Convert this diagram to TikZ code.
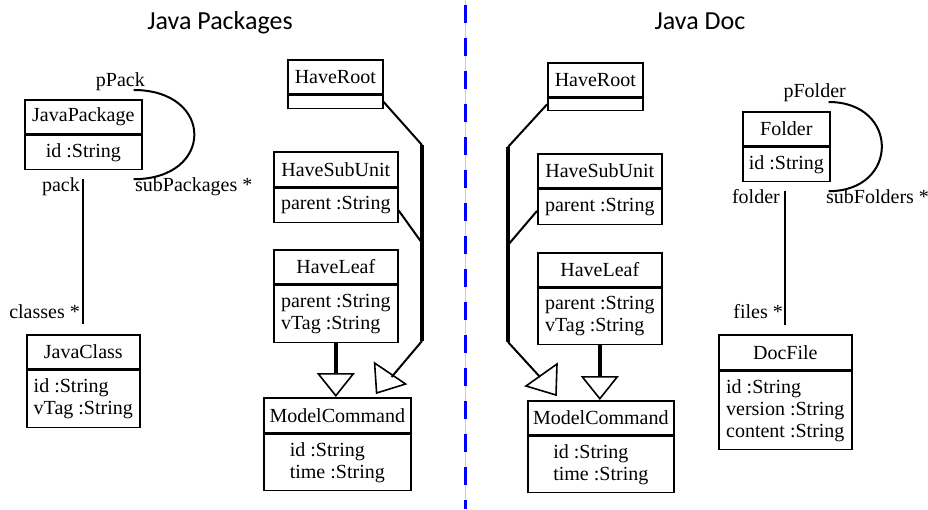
\documentclass[tikz,border=0pt]{standalone}
\usepackage{fontspec}
\setmainfont{Liberation Serif}
\newfontfamily\titlefont{Carlito}
\usetikzlibrary{calc, arrows.meta}

\begin{document}
\begin{tikzpicture}[x=1pt, y=-1pt,
  hd/.style={draw, line width=1.6pt, inner sep=0pt, minimum height=34pt, anchor=north west, font=\fontsize{20}{22}\selectfont},
  bd/.style={draw, line width=1.6pt, inner sep=0pt, align=left, anchor=north, font=\fontsize{20}{22}\selectfont},
  assoc/.style={line width=2pt},
  trunk/.style={line width=4.5pt},
  tri/.style={line width=1.6pt, line join=miter},
  lbl/.style={inner sep=0pt, font=\fontsize{20}{22}\selectfont},
  ttl/.style={inner sep=0pt, anchor=base, font=\titlefont\fontsize{26}{30}\selectfont},
  isa/.style={line width=4.5pt, -{Triangle[open, length=24pt, width=38pt, line width=1.6pt]}}]

	\useasboundingbox (0,0) rectangle (928,509);

	% titles and the blue separator
	\node[ttl] (tPack) at (220,29) {Java Packages};
	\node[ttl] (tDoc) at (700,29) {Java Doc};
	\draw[gray!40, line width=0.8pt] (465,0) -- (465,509);
	\draw[blue, line width=3pt, dash pattern=on 18pt off 15pt] (465,5) -- (465,509);

	% Java Packages: classes
	\node[hd, minimum width=117pt] (jpack) at (24,99) {JavaPackage};
	\node[bd, minimum width=117pt, minimum height=34pt] (jpackB) at (jpack.south) {id :String};
	\node[hd, minimum width=113pt] (jclass) at (26,334) {JavaClass};
	\node[bd, minimum width=113pt, minimum height=57pt] (jclassB) at (jclass.south) {id :String\\vTag :String};

	\node[hd, minimum width=95pt] (rootL) at (287,59) {HaveRoot};
	\node[bd, minimum width=95pt, minimum height=13pt] (rootLB) at (rootL.south) {};
	\node[hd, minimum width=124pt, minimum height=35pt] (subL) at (273,151) {HaveSubUnit};
	\node[bd, minimum width=124pt, minimum height=34pt] (subLB) at (subL.south) {parent :String};
	\node[hd, minimum width=124pt] (leafL) at (273,249) {HaveLeaf};
	\node[bd, minimum width=124pt, minimum height=57pt] (leafLB) at (leafL.south) {parent :String\\vTag :String};
	\node[hd, minimum width=147pt, minimum height=35pt] (mcL) at (263,397) {ModelCommand};
	\node[bd, minimum width=147pt, minimum height=56pt] (mcLB) at (mcL.south) {id :String\\time :String};

	% Java Packages: links
	\coordinate (pPackEnd) at ($(jpack.north east)+(-9,-9)$);
	\coordinate (subPackEnd) at ($(jpackB.south east)+(-9,9)$);
	\draw[assoc] (pPackEnd) .. controls +(81,0) and +(81,0) .. (subPackEnd);
	\node[lbl, anchor=base east] (pPackLbl) at (145,86) {pPack};
	\node[lbl, anchor=base west] (subPackLbl) at (135,191) {subPackages *};

	\draw[assoc] ($(jpackB.south)+(0,9)$) -- ($(jclass.north)+(0,-10)$);
	\node[lbl, anchor=base east] (packLbl) at (80,191) {pack};
	\node[lbl, anchor=base east] (classesLbl) at (80,318) {classes *};

	\coordinate (trunkLtop) at (422,145);
	\coordinate (trunkLmid) at (422,243);
	\coordinate (trunkLbot) at (422,341);
	\draw[trunk] (trunkLtop) -- (trunkLbot);
	\draw[assoc] (rootLB.east) -- (trunkLtop);
	\draw[assoc] ($(subLB.east)+(0,5)$) -- (trunkLmid);
	\draw[assoc] (trunkLbot) -- ($(mcL.north east)+(-20,-20)$);
	\draw[tri] ($(mcL.north east)+(-37,-34)$) -- ++(2,30) -- ++(29,-9) -- cycle;
	\draw[isa] (leafLB.south) -- (leafLB.south |- mcL.north);

	% Java Doc: classes
	\node[hd, minimum width=95pt] (rootR) at (547,62) {HaveRoot};
	\node[bd, minimum width=95pt, minimum height=12pt] (rootRB) at (rootR.south) {};
	\node[hd, minimum width=124pt] (subR) at (537,153) {HaveSubUnit};
	\node[bd, minimum width=124pt, minimum height=35pt] (subRB) at (subR.south) {parent :String};
	\node[hd, minimum width=124pt] (leafR) at (537,252) {HaveLeaf};
	\node[bd, minimum width=124pt, minimum height=56pt] (leafRB) at (leafR.south) {parent :String\\vTag :String};
	\node[hd, minimum width=146pt] (mcR) at (527,400) {ModelCommand};
	\node[bd, minimum width=146pt, minimum height=56pt] (mcRB) at (mcR.south) {id :String\\time :String};

	\node[hd, minimum width=87pt] (folder) at (742,111) {Folder};
	\node[bd, minimum width=87pt, minimum height=34pt] (folderB) at (folder.south) {id :String};
	\node[hd, minimum width=133pt, minimum height=35pt] (docfile) at (718,334) {DocFile};
	\node[bd, minimum width=133pt, minimum height=78pt] (docfileB) at (docfile.south) {id :String\\version :String\\content :String};

	% Java Doc: links
	\coordinate (trunkRtop) at (508,147);
	\coordinate (trunkRmid) at (508,245);
	\coordinate (trunkRbot) at (508,342);
	\draw[trunk] (trunkRtop) -- (trunkRbot);
	\draw[assoc] (rootRB.west) -- (trunkRtop);
	\draw[assoc] ($(subRB.west)+(0,4)$) -- (trunkRmid);
	\draw[assoc] (trunkRbot) -- ($(mcR.north west)+(13,-23)$);
	\draw[tri] ($(mcR.north west)+(-1,-14)$) -- ++(31,-22) -- ++(-1,31) -- cycle;
	\draw[isa] (leafRB.south) -- (leafRB.south |- mcR.north);

	\coordinate (pFolderEnd) at ($(folder.north east)+(-2,-9)$);
	\coordinate (subFolderEnd) at ($(folderB.south east)+(-2,9)$);
	\draw[assoc] (pFolderEnd) .. controls +(71,0) and +(71,0) .. (subFolderEnd);
	\node[lbl, anchor=base east] (pFolderLbl) at (846,97) {pFolder};
	\node[lbl, anchor=base west] (subFolderLbl) at (826,203) {subFolders *};

	\draw[assoc] ($(folderB.south)+(-1,9)$) -- ($(docfile.north)+(0,-9)$);
	\node[lbl, anchor=base east] (folderLbl) at (780,203) {folder};
	\node[lbl, anchor=base east] (filesLbl) at (783,318) {files *};

\end{tikzpicture}
\end{document}
